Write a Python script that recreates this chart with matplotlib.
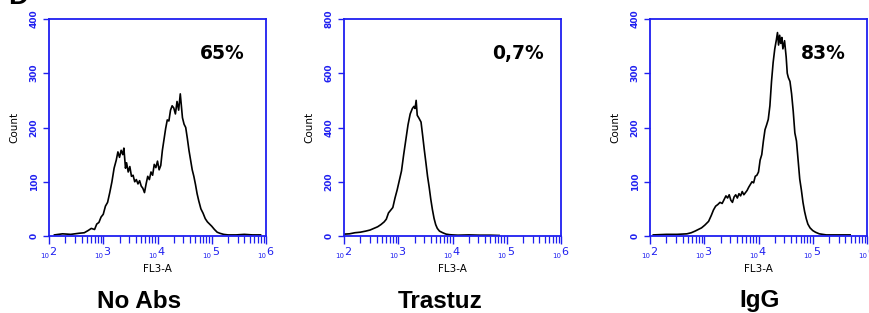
import numpy as np
import matplotlib
matplotlib.use('Agg')
import matplotlib.pyplot as plt
from matplotlib.ticker import LogLocator, NullFormatter

### data (log10 of FL3-A, count)
noabs_log = [2.10, 2.25, 2.40, 2.55, 2.65, 2.72, 2.78, 2.84, 2.88, 2.92, 2.96, 3.00,
             3.04, 3.08, 3.12, 3.16, 3.20, 3.24, 3.27, 3.30, 3.33, 3.36, 3.38, 3.41,
             3.43, 3.46, 3.49, 3.52, 3.55, 3.58, 3.61, 3.64, 3.67, 3.70, 3.73, 3.76,
             3.79, 3.82, 3.85, 3.88, 3.91, 3.94, 3.97, 4.00, 4.03, 4.06, 4.09, 4.12,
             4.15, 4.18, 4.21, 4.24, 4.27, 4.30, 4.33, 4.36, 4.39, 4.42, 4.44, 4.46,
             4.49, 4.52, 4.55, 4.58, 4.61, 4.64, 4.67, 4.70, 4.73, 4.76, 4.80, 4.84,
             4.88, 4.92, 4.96, 5.00, 5.05, 5.10, 5.15, 5.22, 5.30, 5.45, 5.60, 5.75, 5.90]
noabs_cnt = [2, 4, 3, 5, 6, 10, 14, 12, 22, 25, 35, 40,
             55, 62, 80, 100, 125, 140, 155, 145, 158, 150, 162, 125,
             135, 118, 128, 110, 112, 100, 104, 96, 102, 92, 88, 80,
             96, 110, 104, 118, 112, 132, 126, 138, 122, 130, 158, 178,
             198, 214, 212, 232, 240, 236, 225, 248, 232, 262, 240, 218,
             206, 200, 180, 158, 140, 122, 110, 95, 78, 65, 50, 42,
             32, 26, 22, 18, 12, 7, 5, 3, 2, 2, 3, 2, 2]

trast_log = [2.01, 2.10, 2.20, 2.30, 2.40, 2.48, 2.55, 2.62, 2.68, 2.74, 2.78, 2.82,
             2.86, 2.90, 2.94, 2.98, 3.02, 3.06, 3.10, 3.14, 3.18, 3.22, 3.26, 3.29,
             3.31, 3.33, 3.35, 3.38, 3.42, 3.45, 3.48, 3.51, 3.54, 3.57, 3.60, 3.63,
             3.66, 3.69, 3.72, 3.76, 3.82, 3.88, 3.94, 4.00, 4.10, 4.30, 4.50, 4.70, 4.86]
trast_cnt = [7, 8, 12, 14, 18, 22, 28, 34, 42, 52, 62, 85,
             95, 105, 140, 170, 205, 240, 300, 355, 410, 450, 470, 478,
             470, 500, 445, 435, 420, 370, 318, 270, 220, 180, 135, 97,
             65, 42, 28, 18, 12, 7, 5, 4, 3, 4, 3, 3, 2]

igg_log = [2.06, 2.30, 2.50, 2.68, 2.76, 2.83, 2.89, 2.95, 3.01, 3.08, 3.13, 3.17,
           3.21, 3.25, 3.29, 3.33, 3.37, 3.40, 3.43, 3.46, 3.49, 3.52, 3.55, 3.58,
           3.61, 3.64, 3.67, 3.70, 3.73, 3.76, 3.79, 3.82, 3.85, 3.88, 3.91, 3.94,
           3.97, 4.00, 4.03, 4.06, 4.09, 4.12, 4.15, 4.18, 4.21, 4.24, 4.27, 4.30,
           4.33, 4.35, 4.37, 4.39, 4.41, 4.43, 4.45, 4.48, 4.51, 4.53, 4.55, 4.58,
           4.61, 4.64, 4.67, 4.70, 4.73, 4.76, 4.79, 4.82, 4.85, 4.88, 4.91, 4.95,
           5.00, 5.05, 5.12, 5.25, 5.45, 5.69]
igg_cnt = [2, 3, 3, 4, 6, 9, 12, 15, 20, 27, 38, 48,
           55, 58, 62, 60, 68, 74, 70, 76, 66, 62, 72, 76,
           70, 78, 74, 82, 76, 80, 84, 90, 95, 100, 98, 110,
           112, 118, 140, 150, 175, 196, 205, 215, 240, 285, 320, 345,
           362, 375, 352, 370, 355, 366, 345, 360, 330, 300, 292, 285,
           262, 230, 190, 175, 140, 105, 85, 62, 45, 32, 22, 15,
           10, 7, 4, 2, 2, 2]

titles = ['No Abs', 'Trastuz', 'IgG']
percents = ['65%', '0,7%', '83%']
ymaxes = [400, 800, 400]
ysteps = [100, 200, 100]

blue = '#1f1ff0'

fig = plt.figure(figsize=(8.69, 3.13), dpi=100)
lefts = [49/869, 344/869, 650/869]
w = 217/869
b = 77/313
h = 217/313

series = [(noabs_log, noabs_cnt), (trast_log, trast_cnt), (igg_log, igg_cnt)]
title_x = [139, 440, 760]

for i in range(3):
	ax = fig.add_axes([lefts[i], b, w, h])
	lx, cnt = series[i]
	ax.plot(10**np.array(lx), cnt, color='black', lw=1.2)
	ax.set_xscale('log')
	ax.set_xlim(1e2, 1e6)
	ax.set_ylim(0, ymaxes[i])
	for s in ax.spines.values():
		s.set_color(blue)
		s.set_linewidth(1.3)
	ax.set_yticks(np.arange(0, ymaxes[i] + 1, ysteps[i]))
	ax.tick_params(axis='y', colors=blue, direction='out', length=4.5, width=1.0,
		labelsize=6.5, pad=3)
	for lab in ax.get_yticklabels():
		lab.set_rotation(90)
		lab.set_va('center')
		lab.set_fontweight('bold')
	ax.xaxis.set_major_locator(LogLocator(base=10, numticks=10))
	ax.xaxis.set_minor_locator(LogLocator(base=10, subs=np.arange(2, 10), numticks=20))
	ax.xaxis.set_major_formatter(NullFormatter())
	ax.xaxis.set_minor_formatter(NullFormatter())
	ax.tick_params(axis='x', which='major', colors=blue, direction='out', length=6, width=1.0)
	ax.tick_params(axis='x', which='minor', colors=blue, direction='out', length=5, width=0.9)
	# FlowJo style decade labels: small "10" and a larger exponent
	for e in range(2, 7):
		ax.annotate('10', xy=(10**e, 0), xycoords=('data', 'axes fraction'),
			xytext=(-0.2, -15.5), textcoords='offset points', ha='right', va='baseline',
			fontsize=5, color=blue)
		ax.annotate(str(e), xy=(10**e, 0), xycoords=('data', 'axes fraction'),
			xytext=(0.0, -13.5), textcoords='offset points', ha='left', va='baseline',
			fontsize=8, color=blue)
	ax.set_xlabel('FL3-A', fontsize=7.5, labelpad=11)
	ax.set_ylabel('Count', fontsize=7.5, labelpad=7)
	ax.text(0.8, 0.84, percents[i], transform=ax.transAxes, ha='center', va='center',
		fontsize=13.5, fontweight='bold')
	fig.text(title_x[i]/869, 1 - 301/313, titles[i], ha='center', va='center',
		fontsize=17.5, fontweight='bold', family='Liberation Sans')

# panel letter cut off at the top edge
fig.text(8/869, 1 - 4/313, 'D', ha='left', va='baseline', fontsize=20,
	fontweight='bold', family='Liberation Sans')

fig.savefig('out.png', dpi=100)
